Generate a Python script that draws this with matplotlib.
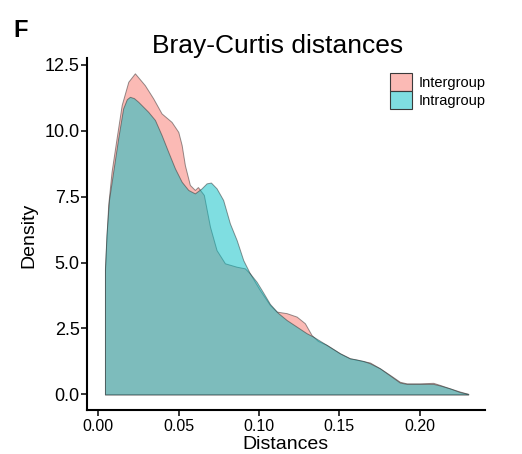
import matplotlib
matplotlib.use('Agg')
import matplotlib.pyplot as plt

plt.rcParams['font.family'] = ['Liberation Sans', 'DejaVu Sans']

# density curves (x = distance, y = density)
inter_x = [0.0042, 0.0062, 0.0083, 0.0114, 0.0146, 0.0187, 0.0228, 0.0290, 0.0342,
           0.0394, 0.0456, 0.0498, 0.0519, 0.0539, 0.0570, 0.0601, 0.0620, 0.0657,
           0.0695, 0.0736, 0.0788, 0.0861, 0.0912, 0.0943, 0.1005, 0.1068, 0.1109,
           0.1172, 0.1234, 0.1285, 0.1327, 0.1366, 0.1420, 0.1503, 0.1565, 0.1627,
           0.1690, 0.1752, 0.1814, 0.1876, 0.1918, 0.2001, 0.2083, 0.2125, 0.2187,
           0.2249, 0.2301]
inter_y = [4.79, 7.18, 8.44, 9.70, 10.97, 11.85, 12.17, 11.72, 11.22,
           10.65, 10.33, 9.95, 9.45, 8.69, 7.94, 7.75, 7.86, 7.56,
           6.36, 5.47, 4.97, 4.84, 4.78, 4.59, 3.96, 3.39, 3.14,
           3.08, 2.95, 2.70, 2.25, 2.03, 1.88, 1.56, 1.37, 1.29,
           1.21, 0.99, 0.74, 0.48, 0.42, 0.42, 0.44, 0.36, 0.23,
           0.11, 0.02]

intra_x = [0.0042, 0.0051, 0.0067, 0.0093, 0.0124, 0.0155, 0.0178, 0.0197, 0.0222,
           0.0249, 0.0311, 0.0353, 0.0394, 0.0435, 0.0477, 0.0519, 0.0560, 0.0601,
           0.0643, 0.0674, 0.0701, 0.0736, 0.0777, 0.0819, 0.0861, 0.0902, 0.0943,
           0.0985, 0.1024, 0.1068, 0.1118, 0.1172, 0.1234, 0.1296, 0.1337, 0.1420,
           0.1503, 0.1565, 0.1603, 0.1648, 0.1690, 0.1752, 0.1814, 0.1876, 0.1918,
           0.2001, 0.2083, 0.2125, 0.2187, 0.2249, 0.2301]
intra_y = [4.72, 6.04, 7.37, 8.44, 9.70, 10.84, 11.19, 11.28, 11.23,
           11.09, 10.71, 10.40, 9.83, 9.20, 8.57, 8.06, 7.75, 7.62,
           7.81, 8.00, 8.03, 7.81, 7.37, 6.48, 5.85, 5.09, 4.59,
           4.27, 3.88, 3.43, 3.09, 2.82, 2.57, 2.32, 2.19, 1.88,
           1.56, 1.37, 1.33, 1.27, 1.18, 0.99, 0.72, 0.45, 0.40,
           0.40, 0.40, 0.34, 0.23, 0.09, 0.02]

groups = ['Intergroup', 'Intragroup']
colors = ['#F8766D', '#00BFC4']
x_ticks = [0.00, 0.05, 0.10, 0.15, 0.20]
y_ticks = [0.0, 2.5, 5.0, 7.5, 10.0, 12.5]

fig = plt.figure(figsize=(5.22, 4.54), dpi=100)
ax = fig.add_axes([0.1672, 0.0969, 0.7618, 0.7753])

handles = []
for xs, ys, c in [(inter_x, inter_y, colors[0]), (intra_x, intra_y, colors[1])]:
    h = ax.fill_between(xs, ys, 0, facecolor=c, alpha=0.5,
                        edgecolor='#2b2b2b', linewidth=0.7)
    handles.append(h)

ax.set_xlim(-0.0068, 0.2405)
ax.set_ylim(-0.59, 12.75)
ax.set_xticks(x_ticks)
ax.set_xticklabels(['%.2f' % v for v in x_ticks], fontsize=11.5)
ax.set_yticks(y_ticks)
ax.set_yticklabels(['%.1f' % v for v in y_ticks], fontsize=13)

for s in ['top', 'right']:
    ax.spines[s].set_visible(False)
for s in ['left', 'bottom']:
    ax.spines[s].set_linewidth(1.5)
ax.tick_params(axis='both', direction='out', length=4.5, width=1.1, colors='black')
ax.tick_params(axis='x', pad=2)
ax.tick_params(axis='y', pad=1)

leg = ax.legend(handles, groups, loc='upper left',
                bbox_to_anchor=(390 / 522, 1 - 72.7 / 454),
                bbox_transform=fig.transFigure, frameon=False,
                borderpad=0, borderaxespad=0, labelspacing=0,
                handlelength=1.49, handleheight=1.53, handletextpad=0.45,
                fontsize=10.5)
for p in leg.get_patches():
    p.set_edgecolor('#3a3a3a')
    p.set_linewidth(0.8)

fig.text(277.5 / 522, 1 - 53 / 454, 'Bray-Curtis distances', fontsize=19,
         ha='center', va='baseline')
fig.text(13 / 522, 1 - 37 / 454, 'F', fontsize=17, fontweight='bold',
         ha='left', va='baseline')
fig.text(285.7 / 522, 1 - 449 / 454, 'Distances', fontsize=14,
         ha='center', va='baseline')
fig.text(29 / 522, 1 - 235 / 454, 'Density', fontsize=14, rotation=90,
         ha='center', va='center')

fig.savefig('out.png', dpi=100)
